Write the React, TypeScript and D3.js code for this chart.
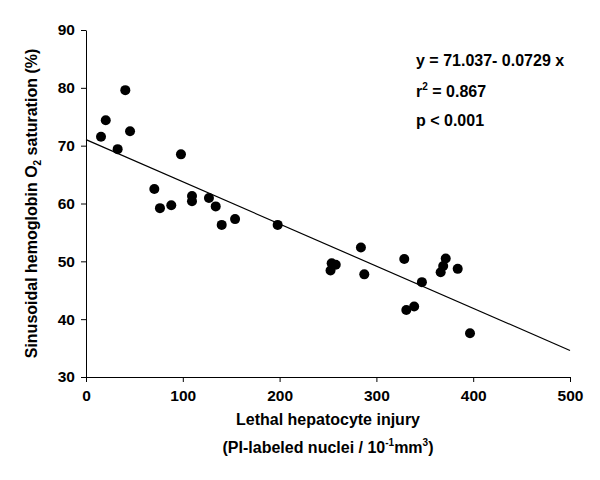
import React, { useEffect, useRef } from "react";
import * as d3 from "d3";

// injury (PI-labeled nuclei / 10^-1 mm^3) vs sinusoidal Hb O2 saturation (%)
const injury = [
  15.5, 20.4, 32.7, 40.6, 45.5, 70.6, 76.4, 88.1, 98.1, 109.5, 109.5, 127, 134,
  140.2, 154, 198, 253.8, 258, 252.6, 284, 287.5, 328.8, 330.9, 339, 347, 366.4,
  369, 371.6, 384, 396.7,
];
const saturation = [
  71.55, 74.4, 69.4, 79.6, 72.5, 62.5, 59.2, 59.7, 68.5, 61.3, 60.4, 60.95, 59.5,
  56.3, 57.3, 56.3, 49.65, 49.4, 48.4, 52.4, 47.75, 50.4, 41.6, 42.2, 46.4, 48.1,
  49.2, 50.5, 48.7, 37.55,
];
const xTicks = [0, 100, 200, 300, 400, 500];
const yTicks = [30, 40, 50, 60, 70, 80, 90];
const intercept = 71.037;
const slope = -0.0729;

const App = () => {
  const svgRef = useRef<SVGSVGElement | null>(null);

  useEffect(() => {
    const width = 600;
    const height = 480;
    const margin = { top: 30, right: 30, bottom: 103, left: 86 };
    const font = "'Liberation Sans', Arial, sans-serif";

    const svg = d3.select(svgRef.current);
    svg.selectAll("*").remove();

    const x = d3
      .scaleLinear()
      .domain([0, 500])
      .range([margin.left, width - margin.right - 0]);
    const y = d3
      .scaleLinear()
      .domain([30, 90])
      .range([height - margin.bottom, margin.top]);

    const xAxis = svg
      .append("g")
      .attr("transform", `translate(0,${height - margin.bottom})`)
      .call(d3.axisBottom(x).tickValues(xTicks).tickSize(5).tickPadding(8).tickSizeOuter(0));
    const yAxis = svg
      .append("g")
      .attr("transform", `translate(${margin.left},0)`)
      .call(d3.axisLeft(y).tickValues(yTicks).tickSize(5).tickPadding(6).tickSizeOuter(0));

    [xAxis, yAxis].forEach((ax) => {
      ax.selectAll("path, line").attr("stroke", "#000").attr("stroke-width", 1);
      ax.selectAll("text")
        .attr("font-family", font)
        .attr("font-size", 15.5)
        .attr("font-weight", "bold")
        .attr("fill", "#000");
    });

    // regression line
    svg
      .append("line")
      .attr("x1", x(0))
      .attr("y1", y(intercept))
      .attr("x2", x(500))
      .attr("y2", y(intercept + slope * 500))
      .attr("stroke", "#000")
      .attr("stroke-width", 1.2);

    svg
      .append("g")
      .selectAll("circle")
      .data(injury)
      .enter()
      .append("circle")
      .attr("cx", (d) => x(d))
      .attr("cy", (d, i) => y(saturation[i]))
      .attr("r", 5)
      .attr("fill", "#000");

    const stats = svg
      .append("g")
      .attr("font-family", font)
      .attr("font-size", 16)
      .attr("font-weight", "bold")
      .attr("fill", "#000");
    stats.append("text").attr("x", 416).attr("y", 66).text("y = 71.037- 0.0729 x");
    const r2 = stats.append("text").attr("x", 416).attr("y", 97);
    r2.append("tspan").text("r");
    r2.append("tspan").attr("font-size", 10).attr("dy", -7).text("2");
    r2.append("tspan").attr("dy", 7).text(" = 0.867");
    stats.append("text").attr("x", 416).attr("y", 126).text("p < 0.001");

    const titles = svg
      .append("g")
      .attr("font-family", font)
      .attr("font-size", 16)
      .attr("font-weight", "bold")
      .attr("fill", "#000")
      .attr("text-anchor", "middle");

    titles
      .append("text")
      .attr("x", (x(0) + x(500)) / 2)
      .attr("y", 425)
      .text("Lethal hepatocyte injury");
    const sub = titles
      .append("text")
      .attr("x", (x(0) + x(500)) / 2)
      .attr("y", 453);
    sub.append("tspan").text("(PI-labeled nuclei / 10");
    sub.append("tspan").attr("font-size", 10).attr("dy", -7).text("-1");
    sub.append("tspan").attr("dy", 7).text("mm");
    sub.append("tspan").attr("font-size", 10).attr("dy", -7).text("3");
    sub.append("tspan").attr("dy", 7).text(")");

    const yt = titles
      .append("text")
      .attr("transform", `translate(37,${(y(30) + y(90)) / 2}) rotate(-90)`);
    yt.append("tspan").text("Sinusoidal hemoglobin O");
    yt.append("tspan").attr("font-size", 10).attr("dy", 4).text("2");
    yt.append("tspan").attr("dy", -4).text(" saturation (%)");
  }, []);

  return (
    <svg
      ref={svgRef}
      width={600}
      height={480}
      style={{ position: "absolute", left: 0, top: 0, background: "#fff" }}
    ></svg>
  );
};

export default App;
